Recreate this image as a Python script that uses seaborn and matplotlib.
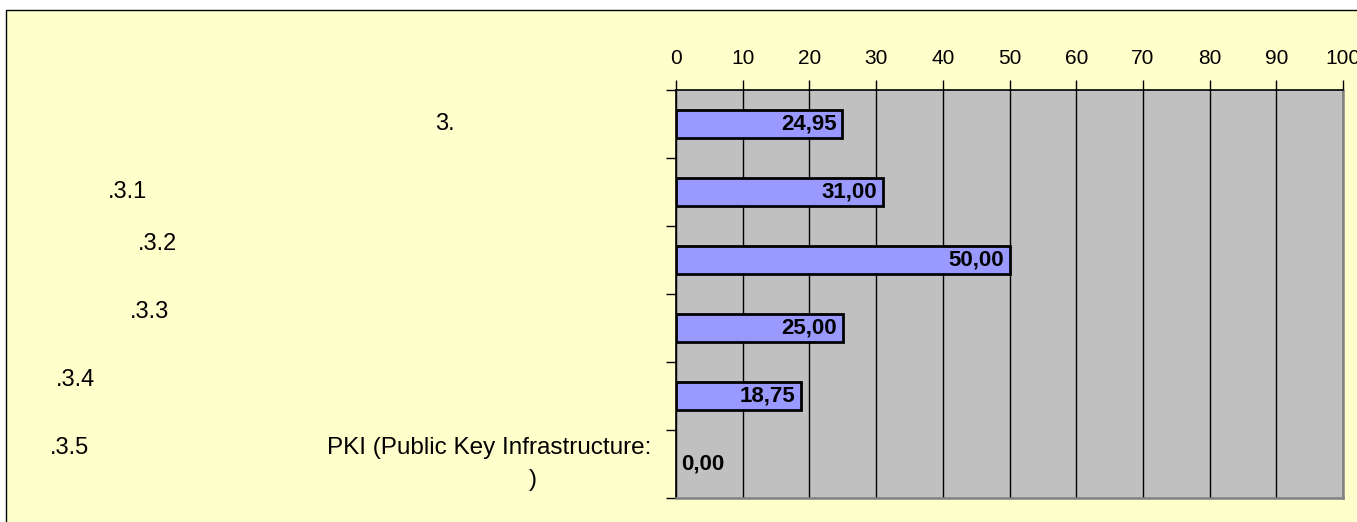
import matplotlib.pyplot as plt
import matplotlib.transforms as mtransforms
from matplotlib.patches import Rectangle
import pandas as pd
import seaborn as sns

# data
categories = ["3.", ".3.1", ".3.2", ".3.3", ".3.4", ".3.5"]
values = [24.95, 31.00, 50.00, 25.00, 18.75, 0.00]
x_ticks = [0, 10, 20, 30, 40, 50, 60, 70, 80, 90, 100]
pki_text = "PKI (Public Key Infrastructure:"
pki_close = ")"

plt.rcParams['font.family'] = ['Liberation Sans', 'DejaVu Sans']

W, H = 1357, 522
fig = plt.figure(figsize=(W / 100, H / 100), dpi=100)
fig.patch.set_facecolor('white')

# yellow chart area with black frame (runs off right/bottom like the original)
frame = Rectangle((6 / W, -0.05), 1.1, 1.05 - 10 / H,
                  transform=fig.transFigure, facecolor='#FFFFCC',
                  edgecolor='black', lw=1.0, zorder=-5)
fig.add_artist(frame)

ax = fig.add_axes([676 / W, 1 - 498 / H, (1343 - 676) / W, (498 - 90) / H])
ax.set_zorder(1)

df = pd.DataFrame({'item': categories, 'score': values})
sns.barplot(data=df, x='score', y='item', orient='h', color='#9999FF',
            saturation=1, edgecolor='black', linewidth=2.0, width=0.41,
            errorbar=None, ax=ax)
# an empty bar shows no outline in the original
for p in ax.patches:
    if p.get_width() == 0:
        p.set_linewidth(0)

ax.set_facecolor('#C0C0C0')
ax.set_xlim(0, 100)
ax.set_ylim(len(categories) - 0.5, -0.5)
ax.set_xticks(x_ticks)
ax.xaxis.tick_top()
ax.tick_params(axis='x', which='major', direction='out', length=7, width=1,
               pad=9, labelsize=15, colors='black')
ax.set_yticks([])
ax.set_yticks([i - 0.5 for i in range(len(categories) + 1)], minor=True)
ax.tick_params(axis='y', which='minor', left=True, direction='out',
               length=7, width=1)
ax.set_xlabel('')
ax.set_ylabel('')

ax.xaxis.grid(True, color='black', lw=1)
ax.set_axisbelow(True)

ax.spines['top'].set_color('black')
ax.spines['left'].set_color('black')
ax.spines['top'].set_linewidth(1.2)
ax.spines['left'].set_linewidth(1.2)
ax.spines['right'].set_color('#808080')
ax.spines['bottom'].set_color('#808080')
ax.spines['right'].set_linewidth(1.8)
ax.spines['bottom'].set_linewidth(1.8)

# value labels inside the bar ends
for i, v in enumerate(values):
    label = f"{v:.2f}".replace('.', ',')
    if v > 0:
        ax.annotate(label, (v, i), xytext=(-4, 0), textcoords='offset points',
                    ha='right', va='center', fontsize=16, fontweight='bold')
    else:
        ax.annotate(label, (v, i), xytext=(4, 0), textcoords='offset points',
                    ha='left', va='center', fontsize=16, fontweight='bold')

# category labels (scattered as in the original rendering)
trans = mtransforms.blended_transform_factory(fig.transFigure, ax.transData)
label_pos = [(445, 0.0), (128, 0.0), (157, -0.24), (150, -0.24),
             (76, -0.24), (70, -0.24)]
for (px, dy), name, i in zip(label_pos, categories, range(len(categories))):
    ax.text(px / W, i + dy, name, transform=trans, ha='center', va='center',
            fontsize=17)
ax.text(489 / W, 5 - 0.24, pki_text, transform=trans, ha='center',
        va='center', fontsize=17.5)
ax.text(533 / W, 5 + 0.23, pki_close, transform=trans, ha='center',
        va='center', fontsize=17.5)

fig.savefig('out.png', dpi=100, facecolor=fig.get_facecolor())
